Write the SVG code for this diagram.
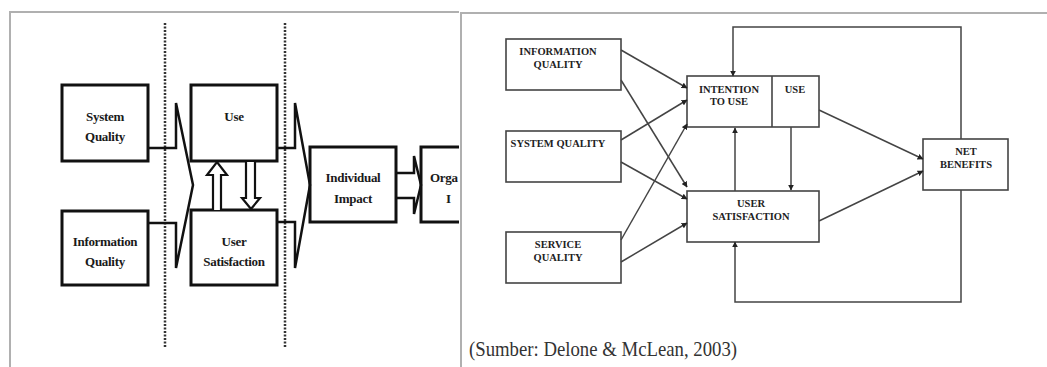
<svg xmlns="http://www.w3.org/2000/svg" width="1047" height="367" viewBox="0 0 1047 367">
<style>
.frame{fill:none;stroke:#b0b0b0;stroke-width:2}
.lbox{fill:#fff;stroke:#111;stroke-width:3}
.lt{font-family:"Liberation Serif",serif;font-weight:bold;font-size:13px;fill:#1a1a1a;text-anchor:middle;letter-spacing:-0.3px}
.chev{fill:none;stroke:#111;stroke-width:2.5;stroke-linejoin:miter}
.hollow{fill:#fff;stroke:#111;stroke-width:2.2}
.dot{stroke:#333;stroke-width:2.5;stroke-dasharray:2,1.5}
.rbox{fill:#fff;stroke:#444;stroke-width:1.6}
.rt{font-family:"Liberation Serif",serif;font-weight:bold;font-size:10.5px;fill:#222;text-anchor:middle}
.con{fill:none;stroke:#444;stroke-width:1.5}
.cap{font-family:"Liberation Serif",serif;font-size:21px;fill:#333}
</style>
<defs>
<marker id="ah" viewBox="0 0 10 10" refX="9" refY="5" markerWidth="6" markerHeight="6" orient="auto" markerUnits="userSpaceOnUse">
<path d="M0,0 L10,5 L0,10 z" fill="#222"/>
</marker>
<clipPath id="leftClip"><rect x="0" y="0" width="459" height="367"/></clipPath>
</defs>
<rect width="1047" height="367" fill="#fff"/>
<g id="frames">
<polyline class="frame" points="10,367 10,12 459,12"/>
<polyline class="frame" points="461,367 461,13 1047,13"/>
</g>
<g id="left-panel" clip-path="url(#leftClip)">
<g id="dividers">
<line class="dot" x1="165" y1="23" x2="165" y2="348"/>
<line class="dot" x1="285" y1="23" x2="285" y2="348"/>
</g>
<g id="l-system-quality"><rect class="lbox" x="62" y="85" width="86" height="76"/><text class="lt" x="105" y="121">System</text><text class="lt" x="105" y="141">Quality</text></g>
<g id="l-information-quality"><rect class="lbox" x="62" y="211" width="86" height="74"/><text class="lt" x="105" y="246">Information</text><text class="lt" x="105" y="266">Quality</text></g>
<g id="l-use"><rect class="lbox" x="191" y="85" width="86" height="76"/><text class="lt" x="234" y="121">Use</text></g>
<g id="l-user-satisfaction"><rect class="lbox" x="191" y="210" width="86" height="75"/><text class="lt" x="234" y="246">User</text><text class="lt" x="234" y="266">Satisfaction</text></g>
<g id="l-individual-impact"><rect class="lbox" x="310" y="147" width="86" height="75"/><text class="lt" x="353" y="182">Individual</text><text class="lt" x="353" y="203">Impact</text></g>
<g id="l-organizational-impact"><rect class="lbox" x="421" y="147" width="60" height="75"/><text class="lt" x="430" y="182" style="text-anchor:start">Orga</text><text class="lt" x="446" y="203" style="text-anchor:start">I</text></g>
<g id="l-connectors">
<path class="chev" d="M148,148 H176 V103 L193,185 L176,268 V223 H148"/>
<path class="chev" d="M277,148 H295 V103 L310,185 L295,268 V222 H277"/>
<path class="chev" d="M396,173 H414 V156 L421,185 L414,214 V198 H396"/>
<path class="hollow" d="M213,210 V175 H207 L217,162 L227,175 H221 V210"/>
<path class="hollow" d="M246,162 V198 H242 L251,209 L260,198 H255 V162"/>
</g>
</g>
<g id="right-panel">
<g id="r-information-quality"><rect class="rbox" x="506" y="39" width="115" height="51"/><text class="rt" x="558" y="55">INFORMATION</text><text class="rt" x="558" y="68">QUALITY</text></g>
<g id="r-system-quality"><rect class="rbox" x="506" y="131" width="115" height="51"/><text class="rt" x="558" y="147">SYSTEM QUALITY</text></g>
<g id="r-service-quality"><rect class="rbox" x="506" y="232" width="115" height="51"/><text class="rt" x="558" y="248">SERVICE</text><text class="rt" x="558" y="261">QUALITY</text></g>
<g id="r-intention-use"><rect class="rbox" x="687" y="76" width="132" height="51"/><line class="rbox" x1="772" y1="76" x2="772" y2="127"/><text class="rt" x="729" y="93">INTENTION</text><text class="rt" x="729" y="105">TO USE</text><text class="rt" x="795" y="93">USE</text></g>
<g id="r-user-satisfaction"><rect class="rbox" x="687" y="191" width="132" height="51"/><text class="rt" x="751" y="207">USER</text><text class="rt" x="751" y="220">SATISFACTION</text></g>
<g id="r-net-benefits"><rect class="rbox" x="923" y="139" width="85" height="51"/><text class="rt" x="966" y="155">NET</text><text class="rt" x="966" y="168">BENEFITS</text></g>
<g id="r-connectors">
<line class="con" x1="621" y1="50" x2="687" y2="88" marker-end="url(#ah)"/>
<line class="con" x1="621" y1="80" x2="687" y2="187" marker-end="url(#ah)"/>
<line class="con" x1="621" y1="140" x2="687" y2="100" marker-end="url(#ah)"/>
<line class="con" x1="621" y1="162" x2="687" y2="199" marker-end="url(#ah)"/>
<line class="con" x1="621" y1="240" x2="687" y2="124" marker-end="url(#ah)"/>
<line class="con" x1="621" y1="262" x2="687" y2="223" marker-end="url(#ah)"/>
<line class="con" x1="735" y1="191" x2="735" y2="128" marker-end="url(#ah)"/>
<line class="con" x1="791" y1="127" x2="791" y2="190" marker-end="url(#ah)"/>
<line class="con" x1="819" y1="110" x2="923" y2="159" marker-end="url(#ah)"/>
<line class="con" x1="819" y1="221" x2="923" y2="171" marker-end="url(#ah)"/>
<polyline class="con" points="961,139 961,27 733,27 733,76" marker-end="url(#ah)"/>
<polyline class="con" points="961,190 961,302 735,302 735,242" marker-end="url(#ah)"/>
</g>
<text class="cap" x="469" y="356" textLength="268" lengthAdjust="spacingAndGlyphs">(Sumber: Delone &amp; McLean, 2003)</text>
</g>
</svg>
